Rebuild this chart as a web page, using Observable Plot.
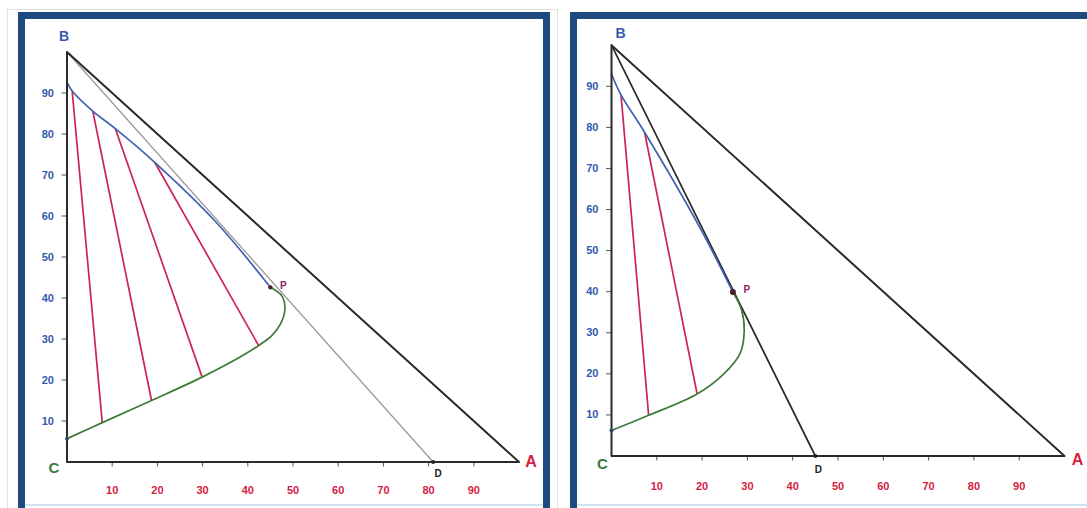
<!DOCTYPE html>
<html>
<head>
<meta charset="utf-8">
<script src="https://cdn.jsdelivr.net/npm/d3@7"></script>
<script src="https://cdn.jsdelivr.net/npm/@observablehq/plot@0.6"></script>
<style>
  html, body { margin: 0; padding: 0; background: #fff; }
  body { width: 1087px; height: 508px; position: relative; overflow: hidden; font-family: "Liberation Sans", Arial, sans-serif; }
  .outer { position: absolute; border: 1px solid #e2e2e2; }
  .frame { position: absolute; border: 7px solid #1f4a7f; border-bottom: none; box-sizing: border-box; }
  .frame::after { content: ""; position: absolute; left: 0; right: 0; bottom: 2px; height: 2px; background: #cfe2f2; }
  .panel { position: absolute; top: 0; }
</style>
</head>
<body>
<div class="outer" style="left:7px; top:9px; width:549px; height:520px;"></div>
<div class="frame" style="left:18px; top:12px; width:532px; height:496px;"></div>
<div class="frame" style="left:570px; top:12px; width:540px; height:496px;"></div>
<div id="left" class="panel" style="left:0px;"></div>
<div id="right" class="panel" style="left:560px;"></div>
<script>
// ---- shared ----
const xTicks = [10, 20, 30, 40, 50, 60, 70, 80, 90];
const yTicks = [10, 20, 30, 40, 50, 60, 70, 80, 90];
const triangle = [[0, 0], [0, 100], [100, 0], [0, 0]];   // C, B, A
const vertexB = [0, 100];
const vertexA = [100, 0];
const vertexC = [0, 0];

// ---- left diagram ----
const leftExtract = [[0, 92.6], [1.15, 90.5], [5.7, 85.6], [10.7, 81.3], [19.4, 73.1], [32.9, 58.6], [45.0, 42.6]];
const leftRaffinate = [[0, 5.7], [7.8, 9.6], [18.7, 15.0], [29.9, 20.7], [38.0, 25.4], [42.4, 28.4], [45.3, 30.8], [47.3, 33.8], [48.2, 37.2], [47.6, 40.4], [45.0, 42.6]];
const leftTieTops = [[1.15, 90.4], [5.7, 85.6], [10.7, 81.3], [19.4, 73.1]];
const leftTieBottoms = [[7.8, 9.6], [18.7, 15.0], [29.9, 20.7], [42.4, 28.4]];
const leftP = [45.0, 42.6];
const leftD = [81, 0];

// ---- right diagram ----
const rightExtract = [[0, 93.0], [2.1, 87.9], [7.3, 78.8], [19.6, 55.4], [26.8, 39.9]];
const rightRaffinate = [[0, 6.2], [8.2, 9.9], [18.9, 15.1], [24.8, 20.0], [28.4, 25.0], [29.3, 30.5], [28.7, 35.6], [26.8, 39.9]];
const rightTieTops = [[2.1, 87.9], [7.3, 78.8]];
const rightTieBottoms = [[8.2, 9.9], [18.9, 15.1]];
const rightP = [26.8, 39.9];
const rightD = [45, 0];

const BLUE = "#3559ad", RED = "#d6203f", GREEN = "#3d7a3c", TIE = "#cc2458", PURP = "#8e1f63";

function diagram(cfg) {
  const ties = cfg.tops.map((t, i) => ({x1: t[0], y1: t[1], x2: cfg.bottoms[i][0], y2: cfg.bottoms[i][1]}));
  const X = d => d[0], Y = d => d[1];
  return Plot.plot({
    width: cfg.width, height: 508,
    marginLeft: cfg.ml, marginRight: cfg.mr, marginTop: cfg.mt, marginBottom: cfg.mb,
    x: {domain: [0, 100]}, y: {domain: [0, 100]},
    style: {background: "transparent", overflow: "visible", fontFamily: "Liberation Sans, Arial, sans-serif"},
    marks: [
      Plot.axisX(xTicks, {anchor: "bottom", tickSize: 5, tickPadding: cfg.xpad, stroke: "#555", fill: RED, fontSize: 11, fontWeight: "bold", label: null}),
      Plot.axisY(yTicks, {anchor: "left", tickSize: 5, tickPadding: 8, stroke: "#555", fill: BLUE, fontSize: 11, fontWeight: "bold", label: null}),
      Plot.line([vertexB, cfg.D], {x: X, y: Y, stroke: cfg.bdColor, strokeWidth: cfg.bdWidth}),
      Plot.link(ties, {x1: "x1", y1: "y1", x2: "x2", y2: "y2", stroke: TIE, strokeWidth: 1.7}),
      Plot.line(cfg.extract, {x: X, y: Y, curve: "catmull-rom", stroke: "#3d62b2", strokeWidth: 1.7}),
      Plot.line(cfg.raffinate, {x: X, y: Y, curve: "catmull-rom", stroke: GREEN, strokeWidth: 1.7}),
      Plot.line(triangle, {x: X, y: Y, stroke: "#2a2a2a", strokeWidth: 2}),
      Plot.dot([cfg.raffinate[0]], {x: X, y: Y, r: 2, fill: "#2f4a6a"}),
      Plot.dot([cfg.P], {x: X, y: Y, r: cfg.pr, fill: "#4a1c30"}),
      Plot.dot([cfg.D], {x: X, y: Y, r: 2, fill: "#222"}),
      Plot.text([cfg.P], {x: X, y: Y, text: () => "P", dx: cfg.pdx, dy: -2, fill: PURP, fontSize: 10, fontWeight: "bold"}),
      Plot.text([cfg.D], {x: X, y: Y, text: () => "D", dx: cfg.ddx, dy: cfg.ddy, fill: "#222", fontSize: 10, fontWeight: "bold"}),
      Plot.text([vertexB], {x: X, y: Y, text: () => "B", dx: cfg.bdx, dy: cfg.bdy, fill: BLUE, fontSize: 14, fontWeight: "bold"}),
      Plot.text([vertexC], {x: X, y: Y, text: () => "C", dx: cfg.cdx, dy: cfg.cdy, fill: GREEN, fontSize: 15, fontWeight: "bold"}),
      Plot.text([vertexA], {x: X, y: Y, text: () => "A", dx: cfg.adx, dy: cfg.ady, fill: RED, fontSize: 16, fontWeight: "bold"})
    ]
  });
}

document.getElementById("left").append(diagram({
  width: 560, ml: 66.5, mr: 41.5, mt: 51.5, mb: 46.5, xpad: 19,
  extract: leftExtract, raffinate: leftRaffinate, tops: leftTieTops, bottoms: leftTieBottoms,
  P: leftP, D: leftD, bdColor: "#9a9a9a", bdWidth: 1.3, pr: 2.2,
  pdx: 13, ddx: 5, ddy: 12, bdx: -3, bdy: -15, cdx: -13, cdy: 6, adx: 12, ady: 0
}));
document.getElementById("right").append(diagram({
  width: 527, ml: 51, mr: 23, mt: 44.7, mb: 52.5, xpad: 21,
  extract: rightExtract, raffinate: rightRaffinate, tops: rightTieTops, bottoms: rightTieBottoms,
  P: rightP, D: rightD, bdColor: "#2a2a2a", bdWidth: 1.7, pr: 3,
  pdx: 14, ddx: 3, ddy: 14, bdx: 9, bdy: -12, cdx: -9, cdy: 8, adx: 13, ady: 4
}));
</script>
</body>
</html>
